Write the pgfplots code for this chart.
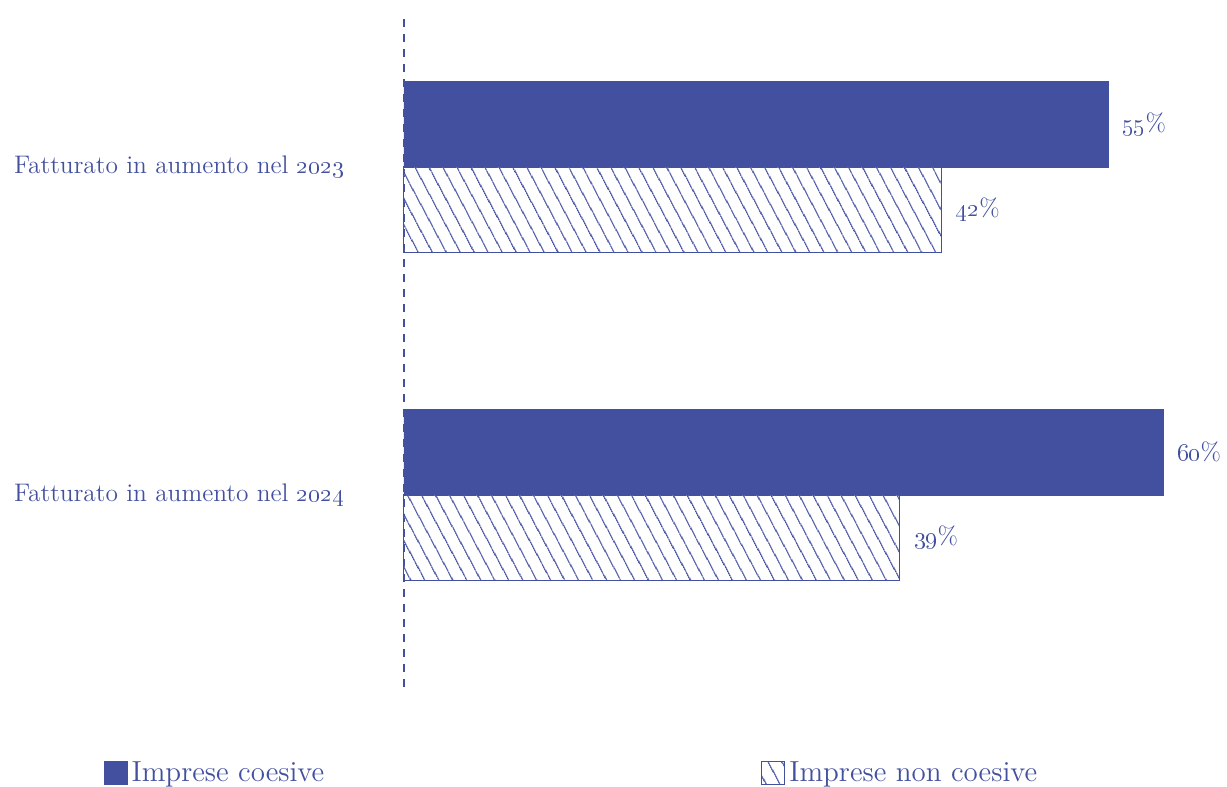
\documentclass[border=0pt]{standalone}
\usepackage{pgfplots}
\pgfplotsset{compat=1.18}
\usetikzlibrary{patterns.meta}
\definecolor{cblue}{RGB}{67,80,160}
\begin{document}
\begin{tikzpicture}
\begin{axis}[
  x=6.4pt, y=164pt,
  xmin=0, xmax=64, ymin=-0.585, ymax=1.4665,
  axis x line=none, axis y line=left,
  y axis line style={-, dash pattern=on 4pt off 3.5pt, line width=0.7pt, cblue},
  ytick={0,1},
  yticklabels={Fatturato in aumento nel \oldstylenums{2024}, Fatturato in aumento nel \oldstylenums{2023}},
  major tick length=0pt,
  yticklabel style={font=\fontsize{12.7}{14}\selectfont, text=cblue, xshift=-26.5pt},
  xbar, bar width=0.262,
  clip=false,
  point meta=explicit symbolic,
  nodes near coords={\oldstylenums{\pgfplotspointmeta}\%},
  every node near coord/.append style={font=\fontsize{12.5}{14}\selectfont, text=cblue, anchor=west, xshift=3.5pt},
  legend columns=2,
  legend style={at={(-0.3672,-0.128)}, anchor=west, draw=none, fill=none, inner sep=0pt,
    font=\fontsize{14.5}{16}\selectfont, text=cblue,
    /tikz/every even column/.append style={column sep=216.5pt}},
  legend image code/.code={\draw[#1, line width=0.5pt] (0pt,-5.75pt) rectangle (11.5pt,5.75pt);},
]
\addplot[fill=cblue, draw=cblue, bar shift=0.131] table[meta=lab]{
x y lab
55 1 55
59.3 0 60
};
\addplot[pattern={Lines[angle=-62,distance=6.4pt,line width=0.65pt]}, pattern color=cblue, draw=cblue, line width=0.5pt, bar shift=-0.131] table[meta=lab]{
x y lab
42 1 42
38.75 0 39
};
\legend{Imprese coesive, Imprese non coesive}
\coordinate (bbtl) at (axis cs:-31.5625,1.5091);
\coordinate (bbbr) at (axis cs:64.297,-0.8902);
\end{axis}
\pgfresetboundingbox
\path[use as bounding box] (bbtl) rectangle (bbbr);
\end{tikzpicture}
\end{document}
